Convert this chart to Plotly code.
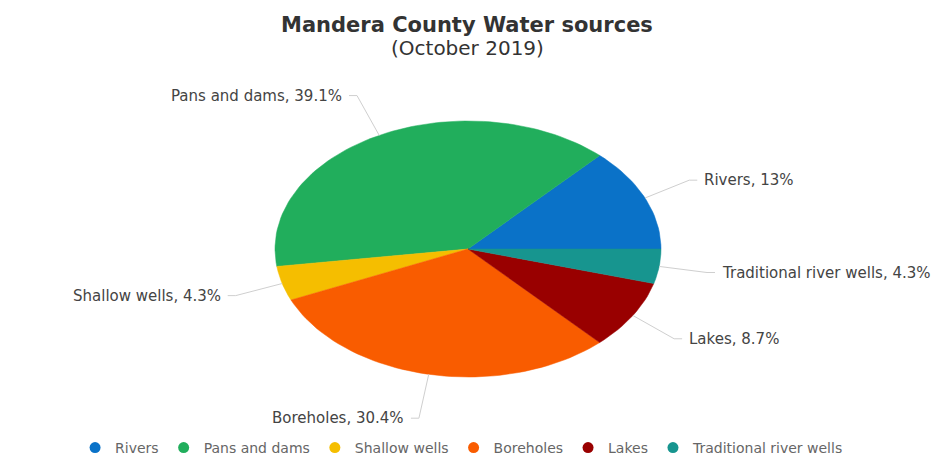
import numpy as np
import plotly.graph_objects as go

# ---- data ----
categories = ["Rivers", "Pans and dams", "Shallow wells", "Boreholes", "Lakes", "Traditional river wells"]
counts = [3, 9, 1, 7, 2, 1]
pct_labels = ["13%", "39.1%", "4.3%", "30.4%", "8.7%", "4.3%"]
colors = ["#0A72C8", "#21AE5C", "#F5BE00", "#F95C00", "#990000", "#17958F"]

# ---- layout constants (pixels) ----
W, H = 943, 459
CX, CY = 468, 249      # pie centre in px (from top-left)
RX, RY = 193, 128      # ellipse radii in px

xr = [-CX / RX, (W - CX) / RX]
yr = [-(H - CY) / RY, CY / RY]

fig = go.Figure()

vals = np.array(counts, dtype=float)
frac = vals / vals.sum()
starts = np.concatenate([[0], np.cumsum(frac)[:-1]])

for i, cat in enumerate(categories):
    a0 = starts[i] * 2 * np.pi
    a1 = (starts[i] + frac[i]) * 2 * np.pi
    t = np.linspace(a0, a1, max(8, int(200 * frac[i])))
    xs = np.concatenate([[0], np.cos(t), [0]])
    ys = np.concatenate([[0], np.sin(t), [0]])
    fig.add_trace(go.Scatter(
        x=xs, y=ys, mode="lines", fill="toself",
        fillcolor=colors[i], line=dict(color=colors[i], width=0.5),
        name=cat, hoverinfo="name", showlegend=False, legendgroup=cat,
    ))

# legend entries (circle icons)
for i, cat in enumerate(categories):
    fig.add_trace(go.Scatter(
        x=[None], y=[None], mode="markers", name=cat, legendgroup=cat,
        marker=dict(symbol="circle", size=11, color=colors[i]),
        showlegend=True, hoverinfo="skip",
    ))

# leader lines and labels
annotations = []
for i, cat in enumerate(categories):
    mid = (starts[i] + frac[i] / 2) * 2 * np.pi
    c, s = np.cos(mid), np.sin(mid)
    ex, ey = c * 1.0, s * 1.0
    bx, by = c * 1.25, s * 1.35
    side = 1 if c >= 0 else -1
    hx = bx + side * 8 / RX
    fig.add_trace(go.Scatter(
        x=[ex, bx, hx], y=[ey, by, by], mode="lines",
        line=dict(color="#CFCFCF", width=1), hoverinfo="skip", showlegend=False,
    ))
    annotations.append(dict(
        x=hx + side * 5 / RX, y=by, xref="x", yref="y",
        text=f"{cat}, {pct_labels[i]}", showarrow=False,
        xanchor="left" if side > 0 else "right", yanchor="middle",
        font=dict(family="DejaVu Sans", size=15, color="#444444"),
    ))

annotations.append(dict(
    x=467 / W, y=1 - 25 / H, xref="paper", yref="paper",
    text="<b>Mandera County Water sources</b>", showarrow=False,
    xanchor="center", yanchor="middle",
    font=dict(family="DejaVu Sans", size=21, color="#333333"),
))
annotations.append(dict(
    x=467 / W, y=1 - 48 / H, xref="paper", yref="paper",
    text="(October 2019)", showarrow=False,
    xanchor="center", yanchor="middle",
    font=dict(family="DejaVu Sans", size=20, color="#333333"),
))

fig.update_layout(
    width=W, height=H,
    margin=dict(l=0, r=0, t=0, b=0, autoexpand=False),
    paper_bgcolor="white", plot_bgcolor="white",
    xaxis=dict(range=xr, visible=False, fixedrange=True),
    yaxis=dict(range=yr, visible=False, fixedrange=True),
    annotations=annotations,
    legend=dict(
        orientation="h", x=0.49, xanchor="center", y=1 - 448 / H, yanchor="middle",
        font=dict(family="DejaVu Sans", size=14, color="#666666"),
        bgcolor="rgba(0,0,0,0)", itemwidth=30,
    ),
    showlegend=True,
)

fig.write_html("out.html")
